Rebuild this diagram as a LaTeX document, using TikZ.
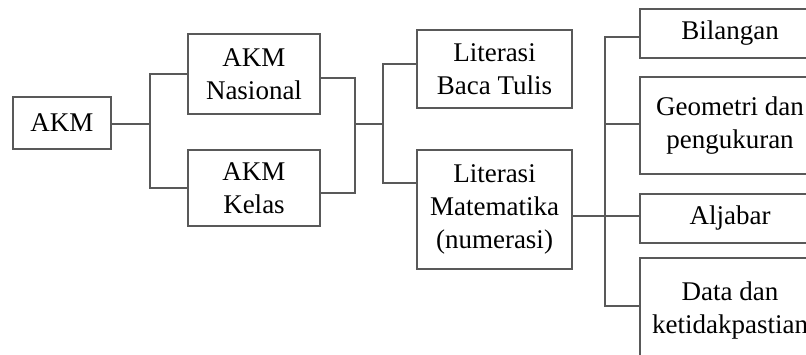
\documentclass[tikz,border=0pt]{standalone}
\usepackage{fontspec}
\setmainfont{Liberation Serif}
\usetikzlibrary{positioning}

\begin{document}
\begin{tikzpicture}[x=1pt,y=-1pt,
    box/.style={
% The shape:
rectangle,
% The text:
align=center, font=\fontsize{27}{33}\selectfont,
% The border:
line width=1.1pt, draw=black!65,
},
    link/.style={
line width=1.1pt, draw=black!65,
},
]
  \useasboundingbox (0,0) rectangle (806,354);
  \clip (0,0) rectangle (806,354);

  \node[box, minimum width=98pt, minimum height=52pt]  (akm) at (62, 123)    {AKM};
  \node[box, minimum width=132pt, minimum height=80pt] (nas) at (254, 74)    {AKM\\Nasional};
  \node[box, minimum width=132pt, minimum height=76pt] (kel) at (254, 188)   {AKM\\Kelas};
  \node[box, minimum width=155pt, minimum height=78pt] (lbt) at (494.5, 69)  {Literasi\\Baca Tulis};
  \node[box, minimum width=155pt, minimum height=119pt] (lmt) at (494.5, 209.5) {Literasi\\Matematika\\(numerasi)};
  \node[box, minimum width=180pt, minimum height=49pt] (bil) at (730, 33.5)  {Bilangan};
  \node[box, minimum width=180pt, minimum height=97pt] (geo) at (730, 125.5) {Geometri dan\\pengukuran};
  \node[box, minimum width=180pt, minimum height=49pt] (alj) at (730, 218.5) {Aljabar};
  \node[box, minimum width=180pt, minimum height=106pt] (dat) at (730, 311)  {Data dan\\ketidakpastian};

  \coordinate (j1) at (150, 124);
  \coordinate (j2) at (355, 124);
  \coordinate (j3) at (383, 124);
  \coordinate (j4) at (605, 216);

  \draw[link] (akm.east |- j1) -- (j1);
  \draw[link] (nas.west) -| (j1) |- (kel.west);
  \draw[link] (nas.east |- 0,78) -| (j2) |- (kel.east |- 0,193);
  \draw[link] (j2) -- (j3);
  \draw[link] (lbt.west |- 0,64) -| (j3) |- (lmt.west |- 0,183);
  \draw[link] (lmt.east |- j4) -- (alj.west |- j4);
  \draw[link] (bil.west |- 0,37) -| (j4) |- (dat.west |- 0,306);
  \draw[link] (geo.west |- 0,124) -| (j4);

\end{tikzpicture}
\end{document}
